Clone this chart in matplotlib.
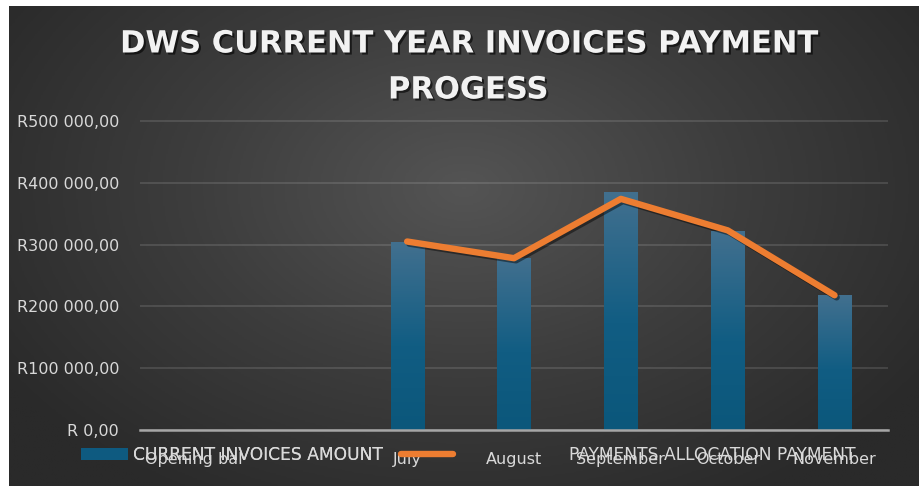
import numpy as np
import matplotlib
matplotlib.use("Agg")
import matplotlib.pyplot as plt
import matplotlib.patheffects as pe
from matplotlib.colors import LinearSegmentedColormap

# chart values
categories = ["Opening bal", "", "July", "August", "September", "October", "November"]
invoices = [0, 0, 304000, 279000, 385000, 322000, 218000]
payments = [None, None, 305000, 278000, 374000, 323000, 218000]
y_ticks = [0, 100000, 200000, 300000, 400000, 500000]
y_tick_labels = ["R 0,00", "R100 000,00", "R200 000,00", "R300 000,00", "R400 000,00", "R500 000,00"]
title_lines = ["DWS CURRENT YEAR INVOICES PAYMENT", "PROGESS"]
legend_labels = ["CURRENT INVOICES AMOUNT", "PAYMENTS ALLOCATION PAYMENT"]

W, H = 919, 486
fig = plt.figure(figsize=(W / 100, H / 100), dpi=100)
fig.patch.set_facecolor("white")

# dark radial background, leaving the thin white margin top/left
bg = fig.add_axes([9 / W, 0, 1 - 9 / W, 1 - 6 / H])
bg.set_axis_off()
yy, xx = np.mgrid[0:1:300j, 0:1:600j]
r = np.sqrt(((xx - 0.5) / 0.6) ** 2 + ((yy - 0.38) / 0.75) ** 2)
r = np.clip(r, 0, 1)
bg_cmap = LinearSegmentedColormap.from_list("bg", ["#545454", "#3d3d3d", "#2a2a2a"])
bg.imshow(r, cmap=bg_cmap, aspect="auto", extent=[0, 1, 0, 1], origin="upper")
bg.set_xlim(0, 1)
bg.set_ylim(0, 1)

ymax = 505000
ax_bottom = 1 - 430 / H
ax_top = 1 - (430 - 309 * ymax / 500000) / H
ax = fig.add_axes([140 / W, ax_bottom, 748 / W, ax_top - ax_bottom])
ax.set_facecolor("none")

x = np.arange(len(categories))
bars = ax.bar(x, invoices, width=0.31, color="#0e5a80", zorder=2)

bar_cmap = LinearSegmentedColormap.from_list(
    "bar", [(0, "#0b577b"), (0.45, "#115d83"), (1, "#42708f")])
grad = np.linspace(0, 1, 256).reshape(-1, 1)
for b in bars:
    h = b.get_height()
    if h <= 0:
        continue
    im = ax.imshow(grad, cmap=bar_cmap, aspect="auto", origin="lower",
                   extent=[b.get_x(), b.get_x() + b.get_width(), 0, h], zorder=2.1)
    im.set_clip_path(b)

pay = np.array([np.nan if v is None else v for v in payments], dtype=float)
ax.plot(x, pay, color="#ed7d31", lw=4.6, solid_capstyle="round", solid_joinstyle="round",
        zorder=3, path_effects=[pe.SimpleLineShadow(offset=(1.5, -1.5), alpha=0.45), pe.Normal()])

ax.set_xlim(-0.5, len(categories) - 0.5)
ax.set_ylim(0, ymax)
ax.set_yticks(y_ticks)
ax.set_yticklabels(y_tick_labels)
ax.set_xticks(x)
ax.set_xticklabels(categories)
ax.yaxis.grid(True, color="#ffffff", alpha=0.13, lw=1.3, zorder=0)
ax.set_axisbelow(True)
for s in ["top", "right", "left"]:
    ax.spines[s].set_visible(False)
ax.spines["bottom"].set_color("#a6a6a6")
ax.spines["bottom"].set_linewidth(1.8)
ax.spines["bottom"].set_zorder(4)
ax.tick_params(axis="both", length=0, labelcolor="#d9d9d9", labelsize=11.5)
ax.tick_params(axis="x", pad=16)
ax.tick_params(axis="y", pad=15)

# titles
shadow = [pe.withSimplePatchShadow(offset=(1.5, -1.5), shadow_rgbFace="black", alpha=0.6)]
fig.text(468 / W, 1 - 44 / H, title_lines[0], ha="center", va="center", color="#f2f2f2",
         fontsize=22, fontweight="bold", path_effects=shadow)
fig.text(468 / W, 1 - 90 / H, title_lines[1], ha="center", va="center", color="#f2f2f2",
         fontsize=22, fontweight="bold", path_effects=shadow)

# legend, two separate pieces so each keeps its own gap
leg1 = fig.legend([bars], [legend_labels[0]], loc="center left",
                  bbox_to_anchor=(66 / W, 1 - 455 / H), frameon=False, fontsize=12.3,
                  handlelength=2.7, handleheight=0.75, handletextpad=0.3, labelcolor="#d9d9d9")
line_handle = plt.Line2D([], [], color="#ed7d31", lw=4.6, solid_capstyle="round")
leg2 = fig.legend([line_handle], [legend_labels[1]], loc="center left",
                  bbox_to_anchor=(386 / W, 1 - 455 / H), frameon=False, fontsize=12.3,
                  handlelength=3.0, handletextpad=6.8, labelcolor="#d9d9d9")
fig.add_artist(leg1)

fig.savefig("out.png", dpi=100, facecolor=fig.get_facecolor())
